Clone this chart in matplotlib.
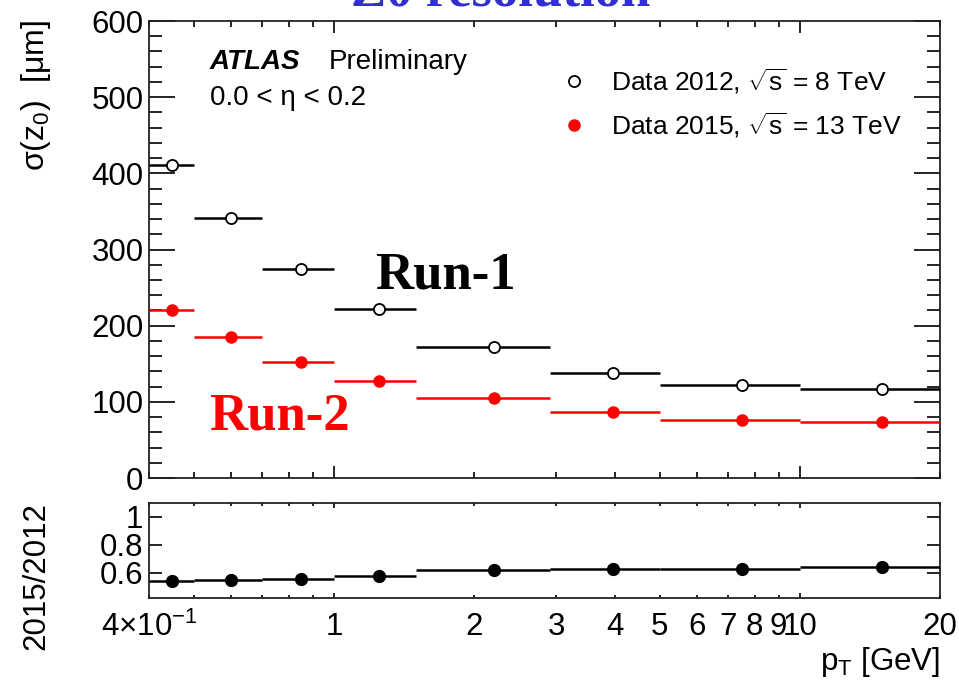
import numpy as np
import matplotlib
matplotlib.use("Agg")
import matplotlib.pyplot as plt
from matplotlib.lines import Line2D
from matplotlib.ticker import FixedLocator, NullFormatter, MultipleLocator

plt.rcParams['font.family'] = ['Liberation Sans', 'DejaVu Sans']
plt.rcParams['mathtext.fontset'] = 'custom'
plt.rcParams['mathtext.rm'] = 'Liberation Sans'
plt.rcParams['mathtext.it'] = 'Liberation Sans:italic'
plt.rcParams['mathtext.bf'] = 'Liberation Sans:bold'

# pT bins [GeV] and mean pT of each bin
bin_edges = np.array([0.4, 0.5, 0.7, 1.0, 1.5, 2.9, 5.0, 10.0, 20.0])
pt_mean = np.array([0.448, 0.60, 0.85, 1.25, 2.2, 3.96, 7.5, 15.0])

# z0 resolution [um]
sigma_2012 = np.array([411, 341, 275, 222, 171.5, 138, 122, 116.5])
sigma_2015 = np.array([221, 185, 152.7, 127, 104.6, 86.6, 76, 74])
ratio = np.array([0.545, 0.55, 0.557, 0.574, 0.618, 0.629, 0.626, 0.64])

xminor_pos = [0.4, 0.5, 0.6, 0.7, 0.8, 0.9, 2, 3, 4, 5, 6, 7, 8, 9, 20]
xminor_lab = [r"4$\times$10$^{-1}$", "", "", "", "", "", "2", "3", "4", "5",
              "6", "7", "8", "9", "20"]
xmajor_pos = [1, 10]
xmajor_lab = ["1", "10"]

xerr = [pt_mean - bin_edges[:-1], bin_edges[1:] - pt_mean]

fig = plt.figure(figsize=(9.59, 6.96), dpi=100)
ax = fig.add_axes([0.1554, 0.3132, 0.8248, 0.6566])
axr = fig.add_axes([0.1554, 0.1408, 0.8248, 0.1365])

ax.errorbar(pt_mean, sigma_2012, xerr=xerr, fmt='o', color='black', mfc='white',
            mec='black', ms=8, mew=1.3, elinewidth=1.8, capsize=0, zorder=3)
ax.errorbar(pt_mean, sigma_2015, xerr=xerr, fmt='o', color='red', mfc='red',
            mec='red', ms=8, elinewidth=1.8, capsize=0, zorder=3)

axr.errorbar(pt_mean, ratio, xerr=xerr, fmt='o', color='black', ms=8.5,
             elinewidth=1.8, capsize=0, zorder=3)

for a in (ax, axr):
    a.set_xscale('log')
    a.set_xlim(0.4, 20)
    a.xaxis.set_major_locator(FixedLocator(xmajor_pos))
    a.xaxis.set_minor_locator(FixedLocator(xminor_pos))
    a.tick_params(axis='both', which='both', direction='in', top=True, right=True,
                  width=1.2, labelsize=22.5)
    for s in a.spines.values():
        s.set_linewidth(1.3)
        s.set_color('#222222')

ax.xaxis.set_major_formatter(NullFormatter())
ax.xaxis.set_minor_formatter(NullFormatter())
ax.set_ylim(0, 600)
ax.yaxis.set_major_locator(MultipleLocator(100))
ax.yaxis.set_minor_locator(MultipleLocator(20))
ax.tick_params(axis='x', which='major', length=8.6)
ax.tick_params(axis='x', which='minor', length=4)
ax.tick_params(axis='y', which='major', length=18.7, pad=4)
ax.tick_params(axis='y', which='minor', length=9.4)

axr.set_xticks(xmajor_pos, xmajor_lab)
axr.set_xticks(xminor_pos, xminor_lab, minor=True)
axr.set_ylim(0.42, 1.1)
axr.set_yticks([0.6, 0.8, 1.0], ["0.6", "0.8", "1"])
axr.yaxis.set_minor_locator(FixedLocator([]))
axr.tick_params(axis='x', which='major', length=3.6, pad=10)
axr.tick_params(axis='x', which='minor', length=2.2, pad=10)
axr.tick_params(axis='y', which='major', length=9.4, pad=4)

# axis titles
fig.text(36 / 959, 1 - 20 / 696, r"σ(z$_{\mathregular{0}}$)  [μm]", rotation=90,
         ha='center', va='top', fontsize=23)
fig.text(36 / 959, 1 - 502 / 696, "2015/2012", rotation=90, ha='center',
         va='top', fontsize=22.5)
fig.text(940 / 959, 1 - 662 / 696, r"p$_\mathregular{T}$ [GeV]", ha='right',
         va='center', fontsize=22.5)

# labels inside the plot
ax.text(210 / 959, 1 - 62 / 696, "ATLAS", transform=fig.transFigure,
        fontsize=20, fontweight='bold', fontstyle='italic', va='center')
ax.text(329 / 959, 1 - 62 / 696, "Preliminary", transform=fig.transFigure,
        fontsize=20, va='center')
ax.text(210 / 959, 1 - 98 / 696, "0.0 < η < 0.2", transform=fig.transFigure,
        fontsize=20, va='center')

handles = [Line2D([], [], ls='none', marker='o', mfc='white', mec='black', ms=8, mew=1.3),
           Line2D([], [], ls='none', marker='o', mfc='red', mec='red', ms=8)]
labels = [r"Data 2012, $\sqrt{\mathregular{s}}$ = 8 TeV",
          r"Data 2015, $\sqrt{\mathregular{s}}$ = 13 TeV"]
ax.legend(handles, labels, loc='upper left', bbox_to_anchor=(545 / 959, 1 - 53 / 696),
          bbox_transform=fig.transFigure, frameon=False, fontsize=19,
          handlelength=1.2, handletextpad=0.8, labelspacing=0.55, borderpad=0)

# slide annotations
fig.text(375 / 959, 1 - 275 / 696, "Run-1", fontsize=38, fontweight='bold',
         family='Liberation Serif', color='black', va='center')
fig.text(209 / 959, 1 - 417 / 696, "Run-2", fontsize=38, fontweight='bold',
         family='Liberation Serif', color='red', va='center')
fig.text(501 / 959, 1 - 5 / 696, "Z0 resolution", fontsize=38, fontweight='bold',
         family='Liberation Serif', color='#3030d0', ha='center', va='baseline')

fig.savefig("out.png", dpi=100)
